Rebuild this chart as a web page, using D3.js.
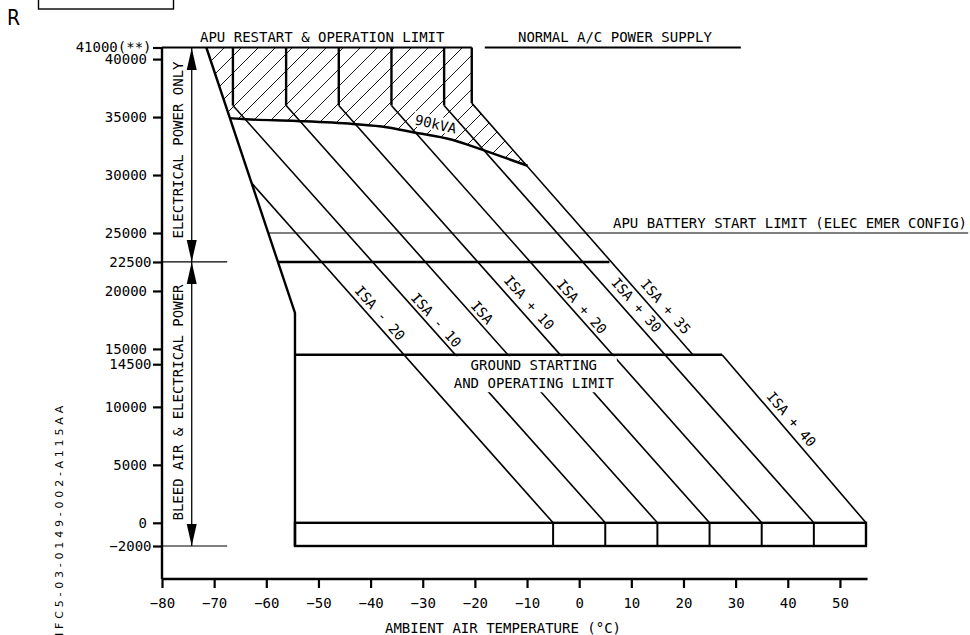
<!DOCTYPE html>
<html><head><meta charset="utf-8">
<script src="https://cdn.jsdelivr.net/npm/d3@7"></script>
<style>
html,body{margin:0;padding:0;background:#fff;}
svg{display:block;}
text{font-family:"DejaVu Sans Mono",monospace;fill:#000;}
</style></head><body>
<svg id="c" width="970" height="635"></svg>
<script>
// ---------------- data ----------------
const tempTicks = [-80,-70,-60,-50,-40,-30,-20,-10,0,10,20,30,40,50];
const tempTickLabels = ["−80","−70","−60","−50","−40","−30","−20","−10","0","10","20","30","40","50"];
const altTicks = [41000,40000,35000,30000,25000,22500,20000,15000,14500,10000,5000,0,-2000];
const altTickLabels = ["41000(**)","40000","35000","30000","25000","22500","20000","15000","14500","10000","5000","0","−2000"];

const isaNames = ["ISA - 20","ISA - 10","ISA","ISA + 10","ISA + 20","ISA + 30","ISA + 35","ISA + 40"];
// [temperature °C, altitude ft] points of each ISA line
const isaLines = [
  [[-62.8,29300],[-5,0]],
  [[-66.4,41000],[-66.4,36000],[5,0]],
  [[-56.2,41000],[-56.2,36000],[15,0]],
  [[-46.1,41000],[-46.1,36000],[25,0]],
  [[-36.0,41000],[-36.0,36000],[35,0]],
  [[-25.9,41000],[-25.9,36000],[45,0]],
  [[-20.6,41000],[-20.6,36200],[21.8,14500]],
  [[27.4,14500],[55,0]]
];
const envelopeLeft = [[-71.5,41000],[-54.5,18100],[-54.5,-2000]];
const kva90 = [[-67.0,34900],[-63.8,34810],[-54.2,34660],[-43.4,34400],[-36.9,34120],
               [-31.9,33690],[-24.2,33020],[-18.5,32160],[-9.9,30800]];
const ceilingAlt = 41000, emerAlt = 25000, elecAlt = 22500, groundAlt = 14500, seaAlt = 0, minAlt = -2000;
const elec22500Range = [-57.8, 5.8];
const emer25000Range = [-59.6, 74.6];
const groundRange = [-54.5, 27.4];
const boxRange = [-54.5, 55];
const boxDividers = [-5,5,15,25,35,45];
const normalSupplyRange = [-18.1, 31.0];
const shortLineEnd = -67.5;
const arrowT = -74.3;

// ---------------- layout ----------------
const svg = d3.select("#c");
const x = d3.scaleLinear().domain([-80,55]).range([162,866]);
const y = d3.scaleLinear().domain([-2000,41000]).range([546,47.5]);
const axisPixY = 579;
const line = d3.line().x(d=>x(d[0])).y(d=>y(d[1]));
const THICK = 2.4, THIN = 1.5;

function seg(t0,a0,t1,a1,w){
  svg.append("line").attr("x1",x(t0)).attr("y1",y(a0)).attr("x2",x(t1)).attr("y2",y(a1))
    .attr("stroke","#000").attr("stroke-width",w);
}

// header
svg.append("rect").attr("x",38.5).attr("y",-5).attr("width",135).attr("height",14)
  .attr("fill","none").attr("stroke","#000").attr("stroke-width",1.4);
svg.append("text").attr("x",7).attr("y",25)
  .style("font-family",'"Liberation Sans Narrow","DejaVu Sans Condensed",sans-serif')
  .style("font-size","21px").text("R");

// hatch
const defs = svg.append("defs");
const pat = defs.append("pattern").attr("id","hatch").attr("patternUnits","userSpaceOnUse")
  .attr("width",17).attr("height",17);
pat.append("path").attr("d","M0,17L17,0M-3,3L3,-3M14,20L20,14")
  .attr("stroke","#000").attr("stroke-width",0.9).attr("fill","none");

const kvaLine = d3.line().x(d=>x(d[0])).y(d=>y(d[1])).curve(d3.curveMonotoneX);
const isa35 = isaLines[6];
const hatchD = kvaLine(kva90) +
  "L" + x(isa35[1][0]) + "," + y(isa35[1][1]) +
  "L" + x(isa35[0][0]) + "," + y(isa35[0][1]) +
  "L" + x(envelopeLeft[0][0]) + "," + y(envelopeLeft[0][1]) + "Z";
svg.append("path").attr("d",hatchD).attr("fill","url(#hatch)");

// 90kVA label with knockout
const kg = svg.append("g").attr("transform",`translate(${x(-27.5)},${y(34400)}) rotate(13)`);
kg.append("rect").attr("x",-23).attr("y",-8).attr("width",46).attr("height",15).attr("fill","#fff");
kg.append("text").attr("text-anchor","middle").attr("dy","0.36em").style("font-size","14px").text("90kVA");

// ISA lines
isaLines.forEach(pts=>{
  for(let i=0;i<pts.length-1;i++){
    const a=pts[i], b=pts[i+1];
    seg(a[0],a[1],b[0],b[1], a[0]===b[0] ? THICK : 1.6);
  }
});

// ISA labels
const isaLabelAt = [[-38.2,18100],[-27.4,17500],[-18.6,18150],[-9.6,19000],[0.5,18650],[11.0,18800],[16.6,18650],[40.7,8950]];
isaLines.forEach((pts,i)=>{
  const a=pts[pts.length-2], b=pts[pts.length-1];
  const ang = Math.atan2(y(b[1])-y(a[1]), x(b[0])-x(a[0]))*180/Math.PI;
  const p = isaLabelAt[i];
  svg.append("text").attr("transform",`translate(${x(p[0])},${y(p[1])}) rotate(${ang})`)
    .attr("text-anchor","middle").attr("dy","0.36em").style("font-size","14px").text(isaNames[i]);
});

// ground limit text with knockout
const gx = x(-8.7);
svg.append("rect").attr("x",gx-83).attr("y",y(groundAlt)+1.5).attr("width",166).attr("height",36).attr("fill","#fff");
svg.append("text").attr("x",gx).attr("y",370).attr("text-anchor","middle").style("font-size","14px").text("GROUND STARTING");
svg.append("text").attr("x",gx).attr("y",388).attr("text-anchor","middle").style("font-size","14px").text("AND OPERATING LIMIT");

// thin reference lines
seg(-80, elecAlt, shortLineEnd, elecAlt, 1.2);
seg(-80, minAlt, shortLineEnd, minAlt, 1.2);
seg(emer25000Range[0], emerAlt, emer25000Range[1], emerAlt, 1.2);

// power arrows
const ax = x(arrowT);
svg.append("line").attr("x1",ax).attr("x2",ax).attr("y1",y(ceilingAlt)).attr("y2",y(minAlt))
  .attr("stroke","#000").attr("stroke-width",1.3);
function arrow(tipY, dir){ // dir -1 up, +1 down
  const L=22, W=5;
  svg.append("path").attr("d",`M${ax},${tipY}L${ax-W},${tipY-dir*L}L${ax+W},${tipY-dir*L}Z`).attr("fill","#000");
}
arrow(y(ceilingAlt)+0.5,-1);
arrow(y(elecAlt),1);
arrow(y(elecAlt),-1);
arrow(y(minAlt),1);

// thick envelope lines
svg.append("path").attr("d",line(envelopeLeft)).attr("fill","none").attr("stroke","#000").attr("stroke-width",THICK);
seg(-80, ceilingAlt, isa35[0][0], ceilingAlt, 2.2);
seg(normalSupplyRange[0], ceilingAlt, normalSupplyRange[1], ceilingAlt, 1.8);
seg(elec22500Range[0], elecAlt, elec22500Range[1], elecAlt, 2.6);
seg(groundRange[0], groundAlt, groundRange[1], groundAlt, THICK);
svg.append("path").attr("d",kvaLine(kva90)).attr("fill","none").attr("stroke","#000").attr("stroke-width",2.4);
// bottom box
svg.append("rect").attr("x",x(boxRange[0])).attr("y",y(seaAlt))
  .attr("width",x(boxRange[1])-x(boxRange[0])).attr("height",y(minAlt)-y(seaAlt))
  .attr("fill","none").attr("stroke","#000").attr("stroke-width",THICK);
boxDividers.forEach(t=>seg(t, seaAlt, t, minAlt, 2.0));

// axes
const xAxis = d3.axisBottom(x).tickValues(tempTicks).tickSize(9).tickPadding(10)
  .tickFormat(d=>tempTickLabels[tempTicks.indexOf(d)]);
const gxA = svg.append("g").attr("transform",`translate(0,${axisPixY})`).call(xAxis);
gxA.select(".domain").remove();
gxA.selectAll("line").attr("stroke-width",2.2);
gxA.selectAll("text").style("font-family",'"DejaVu Sans Mono",monospace').style("font-size","14px");
svg.append("line").attr("x1",x(-80)).attr("x2",x(55.3)).attr("y1",axisPixY).attr("y2",axisPixY)
  .attr("stroke","#000").attr("stroke-width",2.4);

const yAxis = d3.axisLeft(y).tickValues(altTicks).tickSize(9).tickPadding(6)
  .tickFormat(d=>altTickLabels[altTicks.indexOf(d)]);
const gyA = svg.append("g").attr("transform",`translate(${x(-80)},0)`).call(yAxis);
gyA.select(".domain").remove();
gyA.selectAll("line").attr("stroke-width",2.2);
gyA.selectAll("text").style("font-family",'"DejaVu Sans Mono",monospace').style("font-size","14px");
gyA.selectAll(".tick").filter(d=>d===14500).attr("transform",`translate(0,${y(14500)+10})`);
gyA.selectAll(".tick").filter(d=>[41000,22500,14500,-2000].includes(d)).select("text").attr("dx",4.5);
svg.append("line").attr("x1",x(-80)).attr("x2",x(-80)).attr("y1",y(ceilingAlt)).attr("y2",axisPixY)
  .attr("stroke","#000").attr("stroke-width",2.4);

// texts
svg.append("text").attr("x",200).attr("y",42).style("font-size","14px").text("APU RESTART & OPERATION LIMIT");
svg.append("text").attr("x",518).attr("y",42).style("font-size","14px").text("NORMAL A/C POWER SUPPLY");
svg.append("text").attr("x",967).attr("y",228).attr("text-anchor","end").style("font-size","14px").text("APU BATTERY START LIMIT (ELEC EMER CONFIG)");
svg.append("text").attr("x",503).attr("y",633).attr("text-anchor","middle").style("font-size","14px").text("AMBIENT AIR TEMPERATURE (°C)");
svg.append("text").attr("transform",`translate(183,150) rotate(-90)`).attr("text-anchor","middle").style("font-size","14px").text("ELECTRICAL POWER ONLY");
svg.append("text").attr("transform",`translate(183,402.5) rotate(-90)`).attr("text-anchor","middle").style("font-size","14px").text("BLEED AIR & ELECTRICAL POWER");
svg.append("text").attr("transform",`translate(63,641) rotate(-90)`).attr("text-anchor","start")
  .style("font-size","11px").style("letter-spacing","3.8px").style("font-family",'"DejaVu Sans",sans-serif').text("NFC5-03-0149-002-A115AA");
</script></body></html>
